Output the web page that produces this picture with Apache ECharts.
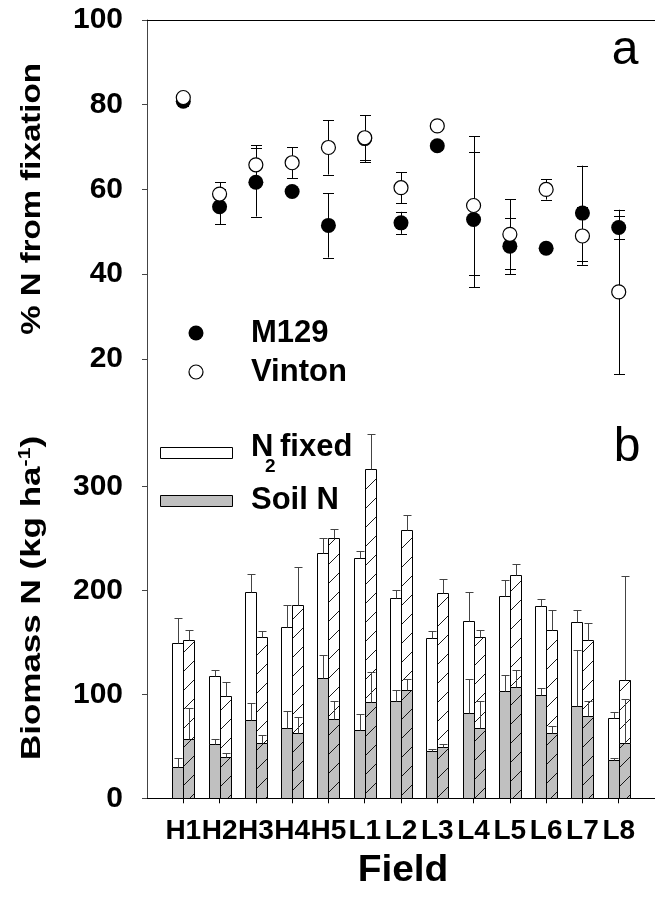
<!DOCTYPE html>
<html>
<head>
<meta charset="utf-8">
<script src="https://cdn.jsdelivr.net/npm/echarts@6/dist/echarts.min.js"></script>
<style>
html,body{margin:0;padding:0;background:#fff;}
#chart{width:655px;height:909px;}
</style>
</head>
<body>
<div id="chart"></div>
<script>
// ---------- data ----------
const fields = ['H1','H2','H3','H4','H5','L1','L2','L3','L4','L5','L6','L7','L8'];
const pctTicks = [20, 40, 60, 80, 100];
const bioTicks = [0, 100, 200, 300];

// panel a: % N from fixation (mean, error)
const m129Pct    = [80.8, 55.9, 61.7, 59.5, 51.5, 72.0, 52.1, 70.3, 52.9, 46.6, 46.1, 54.4, 51.0];
const m129PctErr = [1.2, 4.1, 8.1, 0.8, 7.6, 5.5, 2.6, 1.0, 16.0, 6.6, 0.8, 11.2, 2.8];
const vintonPct    = [81.7, 58.9, 65.8, 66.3, 69.9, 72.2, 60.4, 75.0, 56.2, 49.4, 60.0, 49.0, 35.8];
const vintonPctErr = [0.8, 2.8, 4.6, 3.6, 6.4, 5.3, 3.7, 0.8, 16.3, 8.3, 2.4, 6.8, 19.4];

// panel b: biomass N (kg/ha): soil N, N2 fixed, and their errors
const m129Soil      = [29.8, 52.0, 75.4, 67.4, 115.5, 65.4, 93.4, 45.2, 82.4, 103.0, 99.1, 89.1, 36.9];
const m129SoilErr   = [9.3, 4.8, 16.0, 16.3, 22.1, 16.0, 10.5, 2.0, 32.4, 16.0, 6.8, 53.3, 2.2];
const m129Fixed     = [120.0, 66.0, 123.2, 97.8, 120.3, 165.9, 99.1, 108.8, 88.0, 91.7, 85.7, 80.3, 40.4];
const m129FixedErr  = [23.5, 5.5, 17.6, 20.6, 14.7, 6.4, 7.7, 6.7, 27.9, 15.7, 7.0, 12.1, 5.5];
const vintonSoil     = [57.4, 39.7, 52.9, 62.6, 76.0, 92.4, 104.2, 49.1, 67.4, 107.4, 63.1, 78.9, 52.9];
const vintonSoilErr  = [29.2, 4.2, 7.7, 16.0, 17.6, 28.9, 10.3, 2.9, 26.0, 15.8, 6.2, 14.5, 42.7];
const vintonFixed    = [94.7, 59.1, 102.1, 123.2, 174.5, 224.2, 153.7, 148.2, 87.6, 107.5, 98.6, 73.7, 60.7];
const vintonFixedErr = [9.6, 13.4, 6.0, 36.5, 9.0, 34.0, 14.8, 13.8, 7.3, 10.9, 19.2, 15.8, 100.7];

// ---------- build ----------
const FONT = "'Liberation Sans', Arial, Helvetica, sans-serif";
const xs = fields.map((f, i) => i + 1);
const crisp = v => Math.round(v) + 0.5;

const pctM = xs.map((x, i) => [x, m129Pct[i], m129PctErr[i]]);
const pctV = xs.map((x, i) => [x, vintonPct[i], vintonPctErr[i]]);
const bioM = xs.map((x, i) => [x, m129Soil[i], m129Fixed[i], m129SoilErr[i], m129FixedErr[i]]);
const bioV = xs.map((x, i) => [x, vintonSoil[i], vintonFixed[i], vintonSoilErr[i], vintonFixedErr[i]]);

function errBarItem(params, api) {
  const x = api.value(0), v = api.value(1), e = api.value(2);
  const lo = api.coord([x, v - e]), hi = api.coord([x, v + e]);
  const cx = crisp(lo[0]), half = 5.5;
  const st = {stroke: '#000', lineWidth: 1};
  return {type: 'group', children: [
    {type: 'line', shape: {x1: cx, y1: lo[1], x2: cx, y2: hi[1]}, style: st},
    {type: 'line', shape: {x1: cx - half, y1: crisp(lo[1]), x2: cx + half, y2: crisp(lo[1])}, style: st},
    {type: 'line', shape: {x1: cx - half, y1: crisp(hi[1]), x2: cx + half, y2: crisp(hi[1])}, style: st}
  ]};
}

function hatch(x0, x1, yTop, yBot, sp) {
  const out = [];
  const start = Math.ceil((x0 + yTop) / sp) * sp;
  for (let c = start; c <= x1 + yBot; c += sp) {
    const xa = Math.max(x0, c - yBot), xb = Math.min(x1, c - yTop);
    if (xb > xa) out.push({type: 'line', shape: {x1: xa, y1: c - xa, x2: xb, y2: c - xb},
      style: {stroke: '#000', lineWidth: 0.9}});
  }
  return out;
}

function makeBarRender(side, hatched) {
  return function (params, api) {
    const x = api.value(0), soil = api.value(1), fixed = api.value(2),
          se = api.value(3), fe = api.value(4);
    const base = api.coord([x, 0]);
    const pS = api.coord([x, soil]);
    const pT = api.coord([x, soil + fixed]);
    const pSE = api.coord([x, soil + se]);
    const pTE = api.coord([x, soil + fixed + fe]);
    const w = api.size([1, 0])[0] * 0.305;
    let x0, x1;
    if (side < 0) { x0 = crisp(base[0] - w); x1 = crisp(base[0]); }
    else { x0 = crisp(base[0]); x1 = crisp(base[0] + w); }
    const yB = crisp(base[1]), yS = crisp(pS[1]), yT = crisp(pT[1]);
    const ch = [];
    ch.push({type: 'rect', shape: {x: x0, y: yS, width: x1 - x0, height: yB - yS},
      style: {fill: '#c0c0c0', stroke: '#000', lineWidth: 1}});
    ch.push({type: 'rect', shape: {x: x0, y: yT, width: x1 - x0, height: yS - yT},
      style: {fill: '#fff', stroke: '#000', lineWidth: 1}});
    if (hatched) hatch(x0, x1, yT, yB, 19).forEach(l => ch.push(l));
    const ex = crisp((x0 + x1) / 2), h = 4;
    const est = {stroke: '#444', lineWidth: 1};
    const ySE = crisp(pSE[1]), yTE = crisp(pTE[1]);
    ch.push({type: 'line', shape: {x1: ex, y1: yS, x2: ex, y2: ySE}, style: est});
    ch.push({type: 'line', shape: {x1: ex - h, y1: ySE, x2: ex + h, y2: ySE}, style: est});
    ch.push({type: 'line', shape: {x1: ex, y1: yT, x2: ex, y2: yTE}, style: est});
    ch.push({type: 'line', shape: {x1: ex - h, y1: yTE, x2: ex + h, y2: yTE}, style: est});
    return {type: 'group', children: ch};
  };
}

const yTickLabel = {fontFamily: FONT, fontWeight: 'bold', fontSize: 30, color: '#000'};
const xTickLabel = {fontFamily: FONT, fontWeight: 'bold', fontSize: 28, color: '#000'};

const option = {
  animation: false,
  backgroundColor: '#fff',
  grid: [
    {left: 147, top: 20, width: 518, height: 389},
    {left: 147, top: 409, width: 518, height: 389.3}
  ],
  xAxis: [
    {gridIndex: 0, type: 'value', min: 0, max: 14, position: 'top',
      axisLine: {show: true, lineStyle: {color: '#000', width: 1}},
      axisTick: {show: false}, axisLabel: {show: false}, splitLine: {show: false}},
    {gridIndex: 1, type: 'value', min: 0, max: 14, position: 'top',
      axisLine: {show: true, lineStyle: {color: '#000', width: 1}},
      axisTick: {show: false}, axisLabel: {show: false}, splitLine: {show: false}},
    {gridIndex: 1, type: 'value', min: 0, max: 14, position: 'bottom',
      axisLine: {show: true, lineStyle: {color: '#000', width: 1}},
      axisTick: {show: true, inside: false, length: 5, customValues: xs, lineStyle: {color: '#000'}},
      axisLabel: Object.assign({show: true, margin: 19, customValues: xs,
        hideOverlap: false, showMinLabel: true, showMaxLabel: true,
        formatter: v => fields[Math.round(v) - 1] || ''}, xTickLabel),
      splitLine: {show: false}},
    {gridIndex: 1, type: 'value', min: 0, max: 14, position: 'bottom',
      axisLine: {show: false},
      axisTick: {show: true, inside: true, length: 5, customValues: xs, lineStyle: {color: '#000'}},
      axisLabel: {show: false}, splitLine: {show: false}}
  ],
  yAxis: [
    {gridIndex: 0, type: 'value', min: 8.15, max: 100,
      axisLine: {show: true, lineStyle: {color: '#444', width: 1}},
      axisTick: {show: true, length: 5, customValues: pctTicks, lineStyle: {color: '#444'}},
      axisLabel: Object.assign({margin: 24, customValues: pctTicks, hideOverlap: false}, yTickLabel),
      splitLine: {show: false}},
    {gridIndex: 1, type: 'value', min: 0, max: 374.7,
      axisLine: {show: true, lineStyle: {color: '#444', width: 1}},
      axisTick: {show: true, length: 5, customValues: bioTicks, lineStyle: {color: '#444'}},
      axisLabel: Object.assign({margin: 24, customValues: bioTicks, hideOverlap: false}, yTickLabel),
      splitLine: {show: false}}
  ],
  series: [
    {name: 'M129 err', type: 'custom', xAxisIndex: 0, yAxisIndex: 0, z: 1,
      renderItem: errBarItem, data: pctM, encode: {x: 0, y: 1}},
    {name: 'Vinton err', type: 'custom', xAxisIndex: 0, yAxisIndex: 0, z: 1,
      renderItem: errBarItem, data: pctV, encode: {x: 0, y: 1}},
    {name: 'M129', type: 'scatter', xAxisIndex: 0, yAxisIndex: 0, z: 3,
      symbol: 'circle', symbolSize: 15, data: pctM.map(d => [d[0], d[1]]),
      itemStyle: {color: '#000', opacity: 1}},
    {name: 'Vinton', type: 'scatter', xAxisIndex: 0, yAxisIndex: 0, z: 4,
      symbol: 'circle', symbolSize: 14, data: pctV.map(d => [d[0], d[1]]),
      itemStyle: {color: '#fff', borderColor: '#000', borderWidth: 1.2, opacity: 1}},
    {name: 'M129 biomass', type: 'custom', xAxisIndex: 2, yAxisIndex: 1, z: 2,
      renderItem: makeBarRender(-1, false), data: bioM, encode: {x: 0, y: 1}},
    {name: 'Vinton biomass', type: 'custom', xAxisIndex: 2, yAxisIndex: 1, z: 2,
      renderItem: makeBarRender(1, true), data: bioV, encode: {x: 0, y: 1}}
  ],
  graphic: [
    // panel letters
    {type: 'text', x: 625, y: 51, style: {text: 'a', font: 'normal 48px ' + FONT, fill: '#000', align: 'center', verticalAlign: 'middle'}},
    {type: 'text', x: 627, y: 448, style: {text: 'b', font: 'normal 48px ' + FONT, fill: '#000', align: 'center', verticalAlign: 'middle'}},
    // legend a
    {type: 'circle', shape: {cx: 196, cy: 333, r: 7.5}, style: {fill: '#000'}},
    {type: 'circle', shape: {cx: 196, cy: 372, r: 7}, style: {fill: '#fff', stroke: '#000', lineWidth: 1.2}},
    {type: 'text', x: 251, y: 333, style: {text: 'M129', font: 'bold 31px ' + FONT, fill: '#000', align: 'left', verticalAlign: 'middle'}},
    {type: 'text', x: 251, y: 372, style: {text: 'Vinton', font: 'bold 31px ' + FONT, fill: '#000', align: 'left', verticalAlign: 'middle'}},
    // legend b
    {type: 'rect', shape: {x: 160.5, y: 447.5, width: 72, height: 11}, style: {fill: '#fff', stroke: '#000', lineWidth: 1}},
    {type: 'rect', shape: {x: 160.5, y: 495.5, width: 72, height: 11}, style: {fill: '#c0c0c0', stroke: '#000', lineWidth: 1}},
    {type: 'text', x: 251, y: 447, style: {text: 'N', font: 'bold 31px ' + FONT, fill: '#000', align: 'left', verticalAlign: 'middle'}},
    {type: 'text', x: 265, y: 467, style: {text: '2', font: 'bold 19px ' + FONT, fill: '#000', align: 'left', verticalAlign: 'middle'}},
    {type: 'text', x: 280, y: 447, style: {text: 'fixed', font: 'bold 31px ' + FONT, fill: '#000', align: 'left', verticalAlign: 'middle'}},
    {type: 'text', x: 251, y: 500, style: {text: 'Soil N', font: 'bold 31px ' + FONT, fill: '#000', align: 'left', verticalAlign: 'middle'}},
    // axis titles
    {type: 'text', x: 32, y: 199, rotation: Math.PI / 2, scaleX: 1.18,
      style: {text: '% N from fixation', font: 'bold 28px ' + FONT, fill: '#000', align: 'center', verticalAlign: 'middle'}},
    {type: 'text', x: 32, y: 598, rotation: Math.PI / 2, scaleX: 1.25,
      style: {text: '{t|Biomass N (kg ha}{s|-1}{t|)}', fill: '#000', align: 'center', verticalAlign: 'middle',
        rich: {t: {font: 'bold 28px ' + FONT, fill: '#000'},
               s: {font: 'bold 17px ' + FONT, fill: '#000', padding: [0, 0, 14, 0]}}}},
    {type: 'text', x: 403, y: 871, scaleX: 1.08,
      style: {text: 'Field', font: 'bold 36px ' + FONT, fill: '#000', align: 'center', verticalAlign: 'middle'}}
  ]
};

const chart = echarts.init(document.getElementById('chart'), null, {renderer: 'canvas'});
chart.setOption(option);
</script>
</body>
</html>
